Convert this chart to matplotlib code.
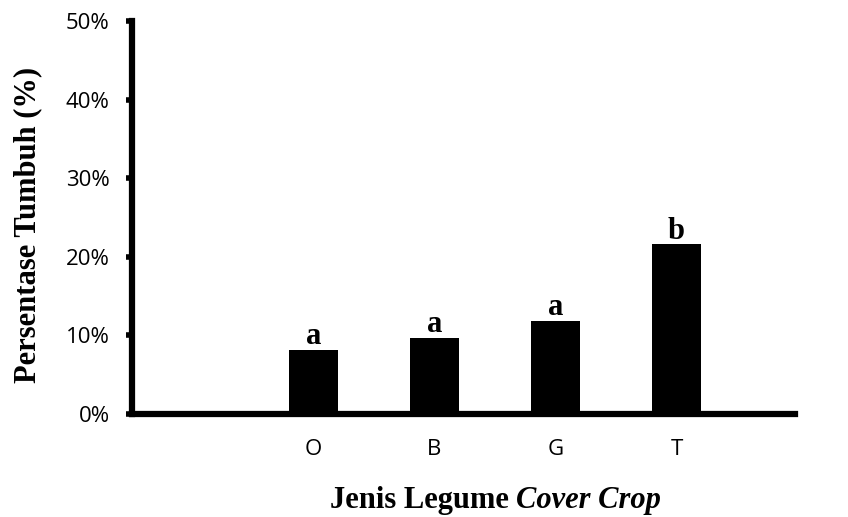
import matplotlib
matplotlib.use("Agg")
import matplotlib.pyplot as plt
from matplotlib.ticker import PercentFormatter
import numpy as np

# data
categories = ["O", "B", "G", "T"]
growth_pct = [8.2, 9.7, 11.9, 21.6]
letters = ["a", "a", "a", "b"]
y_ticks = [0, 10, 20, 30, 40, 50]

fig = plt.figure(figsize=(8.48, 5.17), dpi=100)
ax = fig.add_axes([0.1557, 0.1992, 0.7818, 0.7598])

x = np.arange(1, len(categories) + 1)
bars = ax.bar(x, growth_pct, width=0.4, color="black", zorder=3)

for rect, letter in zip(bars, letters):
    ax.annotate(letter, (rect.get_x() + rect.get_width() / 2, rect.get_height()),
                xytext=(0, 4), textcoords="offset points", ha="center", va="baseline",
                fontsize=22, fontweight="bold", family="Liberation Serif")

ax.set_xlim(-0.5, 4.98)
ax.set_ylim(0, 50)
ax.set_yticks(y_ticks)
ax.yaxis.set_major_formatter(PercentFormatter(decimals=0))
ax.set_xticks(x)
ax.set_xticklabels(categories)

for side in ("top", "right"):
    ax.spines[side].set_visible(False)
for side in ("left", "bottom"):
    ax.spines[side].set_linewidth(4.5)
ax.tick_params(axis="y", length=4, width=4, pad=12, labelsize=16)
ax.tick_params(axis="x", length=0, pad=18, labelsize=16)
for lbl in ax.get_xticklabels() + ax.get_yticklabels():
    lbl.set_family("Open Sans")

ax.set_ylabel("Persentase Tumbuh (%)", family="Liberation Serif", fontsize=22,
              fontweight="bold")
ax.yaxis.set_label_coords(-0.136, 0.481)

# x label with italic part
fig.canvas.draw()
renderer = fig.canvas.get_renderer()
t1 = fig.text(0, 0.017, "Jenis Legume ", family="Liberation Serif", fontsize=22,
              fontweight="bold", ha="left", va="baseline")
t2 = fig.text(0, 0.017, "Cover Crop", family="Liberation Serif", fontsize=22,
              fontweight="bold", style="italic", ha="left", va="baseline")
w1 = t1.get_window_extent(renderer).width
w2 = t2.get_window_extent(renderer).width
start = 495.5 - (w1 + w2) / 2
t1.set_x(start / fig.bbox.width)
t2.set_x((start + w1) / fig.bbox.width)

fig.savefig("out.png", dpi=100)
